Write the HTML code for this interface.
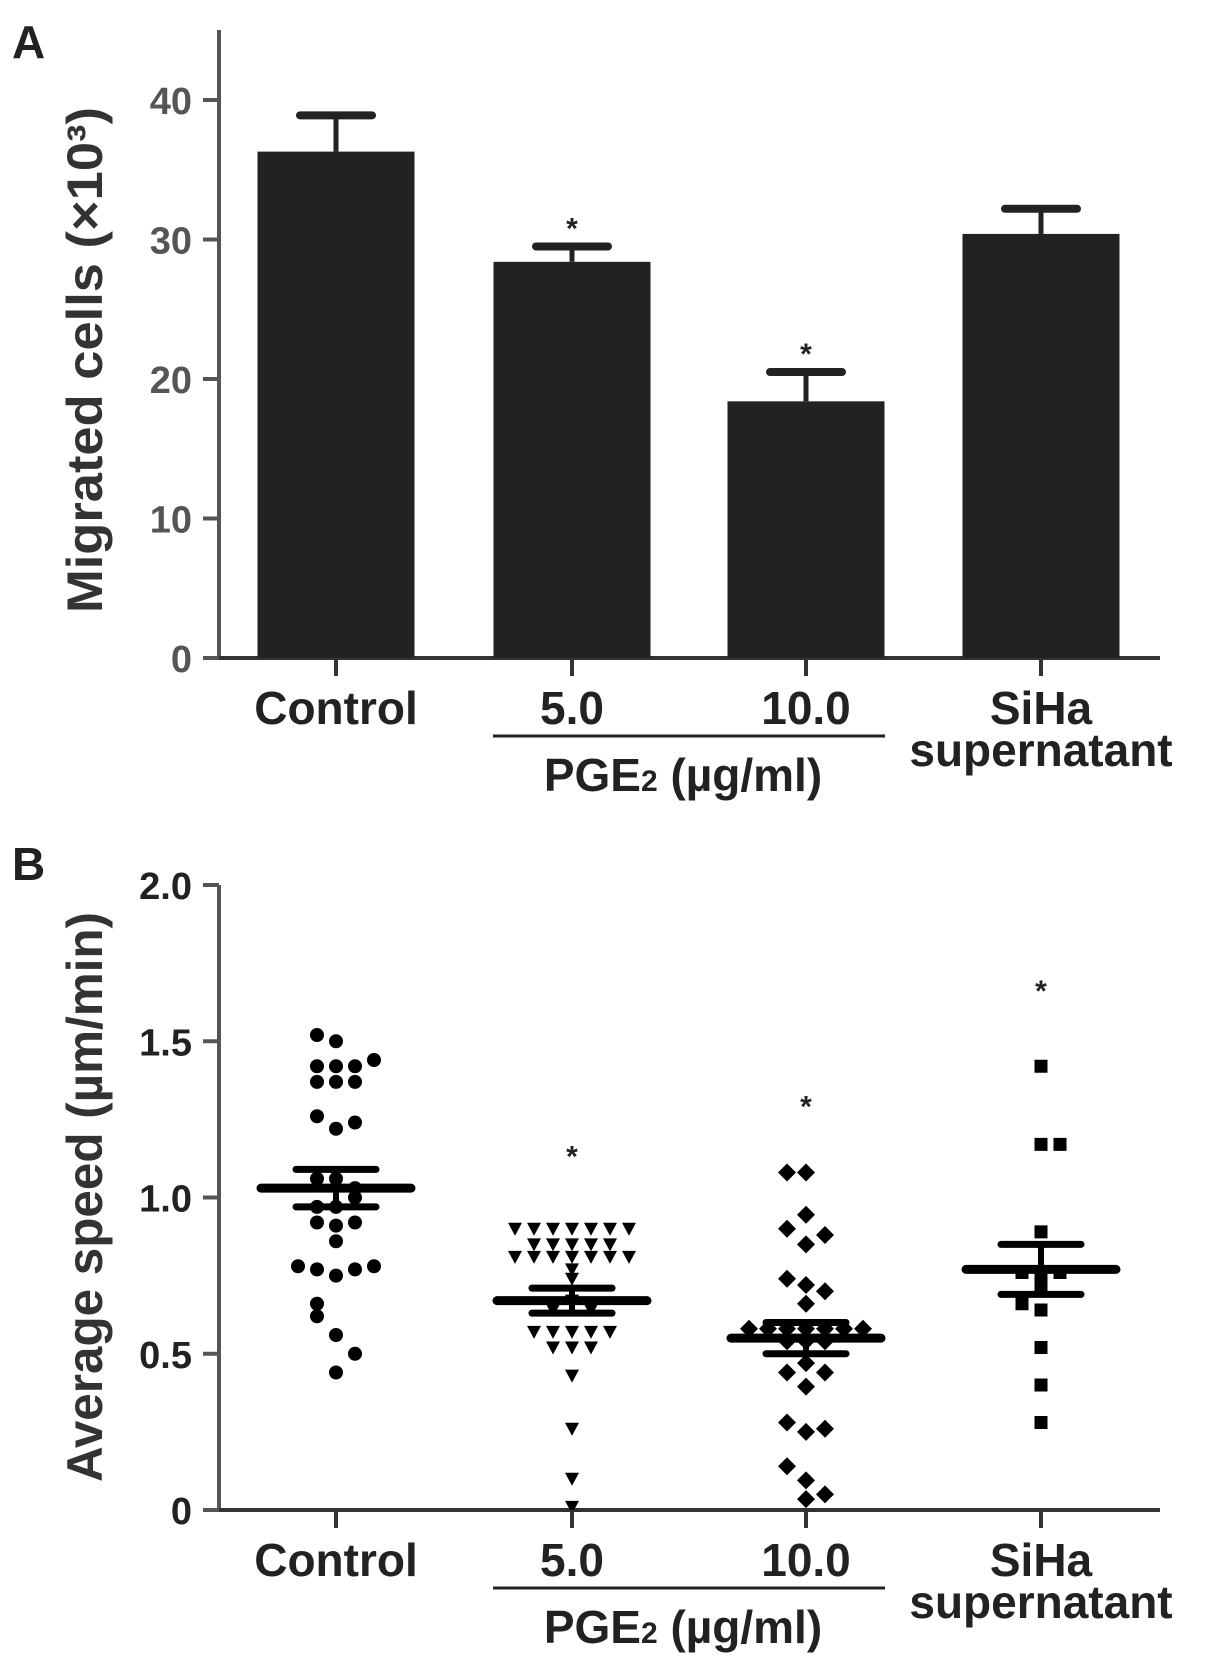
<!DOCTYPE html>
<html><head><meta charset="utf-8">
<style>
html,body{margin:0;padding:0;background:#fff;}
svg{display:block;}
text{font-family:"Liberation Sans",sans-serif;font-weight:bold;}
</style></head>
<body>
<svg id="fig" width="1205" height="1668" viewBox="0 0 1205 1668" xmlns="http://www.w3.org/2000/svg">
<text x="12" y="58" font-size="46" fill="#222">A</text>
<text x="12" y="880" font-size="46" fill="#222">B</text>
<g id="chartA"></g>
<g id="chartB"></g>
</svg>
<script>
// ---- Panel A data ----
const categoriesA = ["Control", "5.0", "10.0", "SiHa"];
const barValues = [36.3, 28.4, 18.4, 30.4];
const barErrors = [2.6, 1.1, 2.1, 1.8];
const barStars = [false, true, true, false];
const ticksA = [0, 10, 20, 30, 40];

// ---- Panel B data ----
const categoriesB = ["Control", "5.0", "10.0", "SiHa"];
const ticksB = [0, 0.5, 1.0, 1.5, 2.0];
const tickLabelsB = ["0", "0.5", "1.0", "1.5", "2.0"];
const means = [1.03, 0.67, 0.55, 0.77];
const sems = [0.06, 0.04, 0.05, 0.08];
const starY = [null, 1.15, 1.31, 1.68];
// points: [value, column offset index]
const ptsControl = [[1.52,-1],[1.50,0],[1.42,-1],[1.42,0],[1.42,1],[1.44,2],[1.37,-1],[1.37,0],[1.37,1],[1.26,-1],[1.22,0],[1.24,1],[1.06,-1],[1.06,0],[1.03,1],[0.97,-1],[0.97,0],[1.00,1],[0.92,-1],[0.91,0],[0.92,1],[0.86,0],[0.78,-2],[0.77,-1],[0.75,0],[0.77,1],[0.78,2],[0.66,-1],[0.62,-1],[0.56,0],[0.50,1],[0.44,0]];
const ptsPGE5 = [[0.90,-3],[0.90,-2],[0.90,-1],[0.90,0],[0.90,1],[0.90,2],[0.90,3],[0.85,-2],[0.85,-1],[0.85,0],[0.85,1],[0.85,2],[0.81,-3],[0.81,-2],[0.81,-1],[0.81,0],[0.81,1],[0.81,2],[0.81,3],[0.77,0],[0.74,0],[0.67,0],[0.64,-1],[0.64,1],[0.57,-2],[0.57,-1],[0.57,0],[0.57,1],[0.57,2],[0.52,-1],[0.52,0],[0.52,1],[0.43,0],[0.26,0],[0.10,0],[0.01,0]];
const ptsPGE10 = [[1.08,-1],[1.08,0],[0.945,0],[0.90,-1],[0.85,0],[0.88,1],[0.74,-1],[0.72,0],[0.70,1],[0.66,0],[0.58,-3],[0.58,-2],[0.58,-1],[0.58,0],[0.58,1],[0.58,2],[0.58,3],[0.54,-1],[0.54,0],[0.54,1],[0.47,0],[0.44,-1],[0.44,1],[0.395,0],[0.28,-1],[0.25,0],[0.26,1],[0.14,-1],[0.095,0],[0.035,0],[0.05,1]];
const ptsSiHa = [[1.42,0],[1.17,0],[1.17,1],[0.89,0],[0.76,-1],[0.76,0],[0.76,1],[0.72,0],[0.66,-1],[0.64,0],[0.52,0],[0.40,0],[0.28,0]];

const NS = "http://www.w3.org/2000/svg";
function mk(parent, tag, attrs, txt){
  const e = document.createElementNS(NS, tag);
  for (const k in attrs) e.setAttribute(k, attrs[k]);
  if (txt !== undefined) e.textContent = txt;
  parent.appendChild(e);
  return e;
}
const centers = [336, 572, 806, 1041];
const xCat = i => centers[i];

// ===== Panel A =====
const gA = document.getElementById('chartA');
const yA0 = 658, yAScale = (658 - 100) / 40;
const yA = v => yA0 - v * yAScale;
let e;
e = mk(gA, 'line', {x1:219, y1:30, x2:219, y2:658, stroke:'#555', 'stroke-width':4});


e = mk(gA, 'line', {x1:203, y1:658, x2:1160, y2:658, stroke:'#333', 'stroke-width':4});


ticksA.forEach(t => {
  const y = yA(t);
  const l = mk(gA, 'line', {x1:203, y1:y, x2:219, y2:y, stroke:'#555', 'stroke-width':4});
  
  
  const tx = mk(gA, 'text', {x:192, y:y + 14, 'font-size':38, fill:'#555', 'text-anchor':'end'}, String(t));
  
  
});
barValues.forEach((v, i) => {
  const cx = xCat(i), w = 157;
  const top = yA(v + barErrors[i]);
  const eb = mk(gA, 'line', {x1:cx, y1:yA(v), x2:cx, y2:top, stroke:'#222', 'stroke-width':5});
  
  
  const cap = mk(gA, 'line', {x1:cx - 36, y1:top, x2:cx + 36, y2:top, stroke:'#222', 'stroke-width':8, 'stroke-linecap':'round'});
  
  
  const r = mk(gA, 'rect', {x:cx - w/2, y:yA(v), width:w, height:yA0 - yA(v), fill:'#222'});
  
  
  const tk = mk(gA, 'line', {x1:cx, y1:658, x2:cx, y2:676, stroke:'#333', 'stroke-width':4});
  
  
  if (barStars[i]) {
    const s = mk(gA, 'text', {x:cx, y:top - 8, 'font-size':30, 'font-weight':'normal', fill:'#222', 'text-anchor':'middle'}, '*');
    
    
  }
});
e = mk(gA, 'text', {x:0, y:0, 'font-size':50, fill:'#333', 'text-anchor':'middle', textLength:506, lengthAdjust:'spacingAndGlyphs', transform:'translate(102,360) rotate(-90)'}, 'Migrated cells (×10³)');



// ===== Panel B =====
const gB = document.getElementById('chartB');
const yB0 = 1510, yBScale = (1510 - 885) / 2.0;
const yB = v => yB0 - v * yBScale;
const dx = 19;
e = mk(gB, 'line', {x1:219, y1:885, x2:219, y2:1510, stroke:'#555', 'stroke-width':4});


e = mk(gB, 'line', {x1:203, y1:1510, x2:1160, y2:1510, stroke:'#333', 'stroke-width':4});


ticksB.forEach((t, i) => {
  const y = yB(t);
  const l = mk(gB, 'line', {x1:203, y1:y, x2:219, y2:y, stroke:'#555', 'stroke-width':4});
  
  
  const tx = mk(gB, 'text', {x:192, y:y + 14, 'font-size':38, fill:'#222', 'text-anchor':'end'}, tickLabelsB[i]);
  
  
});
function drawMarker(kind, cx, cy){
  let m;
  if (kind === 'circle') m = mk(gB, 'circle', {cx:cx, cy:cy, r:7, fill:'#000'});
  else if (kind === 'tri') m = mk(gB, 'polygon', {points:`${cx-7},${cy-6} ${cx+7},${cy-6} ${cx},${cy+7}`, fill:'#000'});
  else if (kind === 'diamond') m = mk(gB, 'polygon', {points:`${cx},${cy-9} ${cx+9},${cy} ${cx},${cy+9} ${cx-9},${cy}`, fill:'#000'});
  else m = mk(gB, 'rect', {x:cx-6.5, y:cy-6.5, width:13, height:13, fill:'#000'});
  
  
}
const groups = [[ptsControl,'circle'],[ptsPGE5,'tri'],[ptsPGE10,'diamond'],[ptsSiHa,'square']];
groups.forEach((g, i) => {
  g[0].forEach(p => drawMarker(g[1], xCat(i) + p[1] * dx, yB(p[0])));
});
means.forEach((m, i) => {
  const cx = xCat(i);
  const v = mk(gB, 'line', {x1:cx, y1:yB(m + sems[i]), x2:cx, y2:yB(m - sems[i]), stroke:'#000', 'stroke-width':6});
  
  
  [m + sems[i], m - sems[i]].forEach(s => {
    const c = mk(gB, 'line', {x1:cx - 40, y1:yB(s), x2:cx + 40, y2:yB(s), stroke:'#000', 'stroke-width':7, 'stroke-linecap':'round'});
    
    
  });
  const ml = mk(gB, 'line', {x1:cx - 75, y1:yB(m), x2:cx + 75, y2:yB(m), stroke:'#000', 'stroke-width':9, 'stroke-linecap':'round'});
  
  
  const tk = mk(gB, 'line', {x1:cx, y1:1510, x2:cx, y2:1528, stroke:'#333', 'stroke-width':4});
  
  
  if (starY[i] !== null) {
    const s = mk(gB, 'text', {x:cx, y:yB(starY[i]) + 16, 'font-size':30, 'font-weight':'normal', fill:'#222', 'text-anchor':'middle'}, '*');
    
    
  }
});
e = mk(gB, 'text', {x:0, y:0, 'font-size':50, fill:'#333', 'text-anchor':'middle', textLength:570, lengthAdjust:'spacingAndGlyphs', transform:'translate(102,1197) rotate(-90)'}, 'Average speed (µm/min)');



// ===== category labels for both panels =====
// [group, category baseline, supernatant baseline, bracket y, PGE2 baseline]
[[gA, 724, 766, 736, 791], [gB, 1576, 1618, 1588, 1643]].forEach(c => {
  const g = c[0];
  const lbl = ['Control', '5.0', '10.0', 'SiHa'];
  lbl.forEach((t, i) => {
    const tx = mk(g, 'text', {x:xCat(i), y:c[1], 'font-size':46, fill:'#222', 'text-anchor':'middle'}, t);
    
    
  });
  const sup = mk(g, 'text', {x:xCat(3), y:c[2], 'font-size':46, fill:'#222', 'text-anchor':'middle'}, 'supernatant');
  
  
  const br = mk(g, 'line', {x1:493, y1:c[3], x2:885, y2:c[3], stroke:'#222', 'stroke-width':3});
  
  
  const pg = mk(g, 'text', {x:683, y:c[4], 'font-size':46, fill:'#222', 'text-anchor':'middle'});
  
  
  pg.innerHTML = 'PGE<tspan font-size="30">2</tspan> (µg/ml)';
});
</script>
</body></html>
